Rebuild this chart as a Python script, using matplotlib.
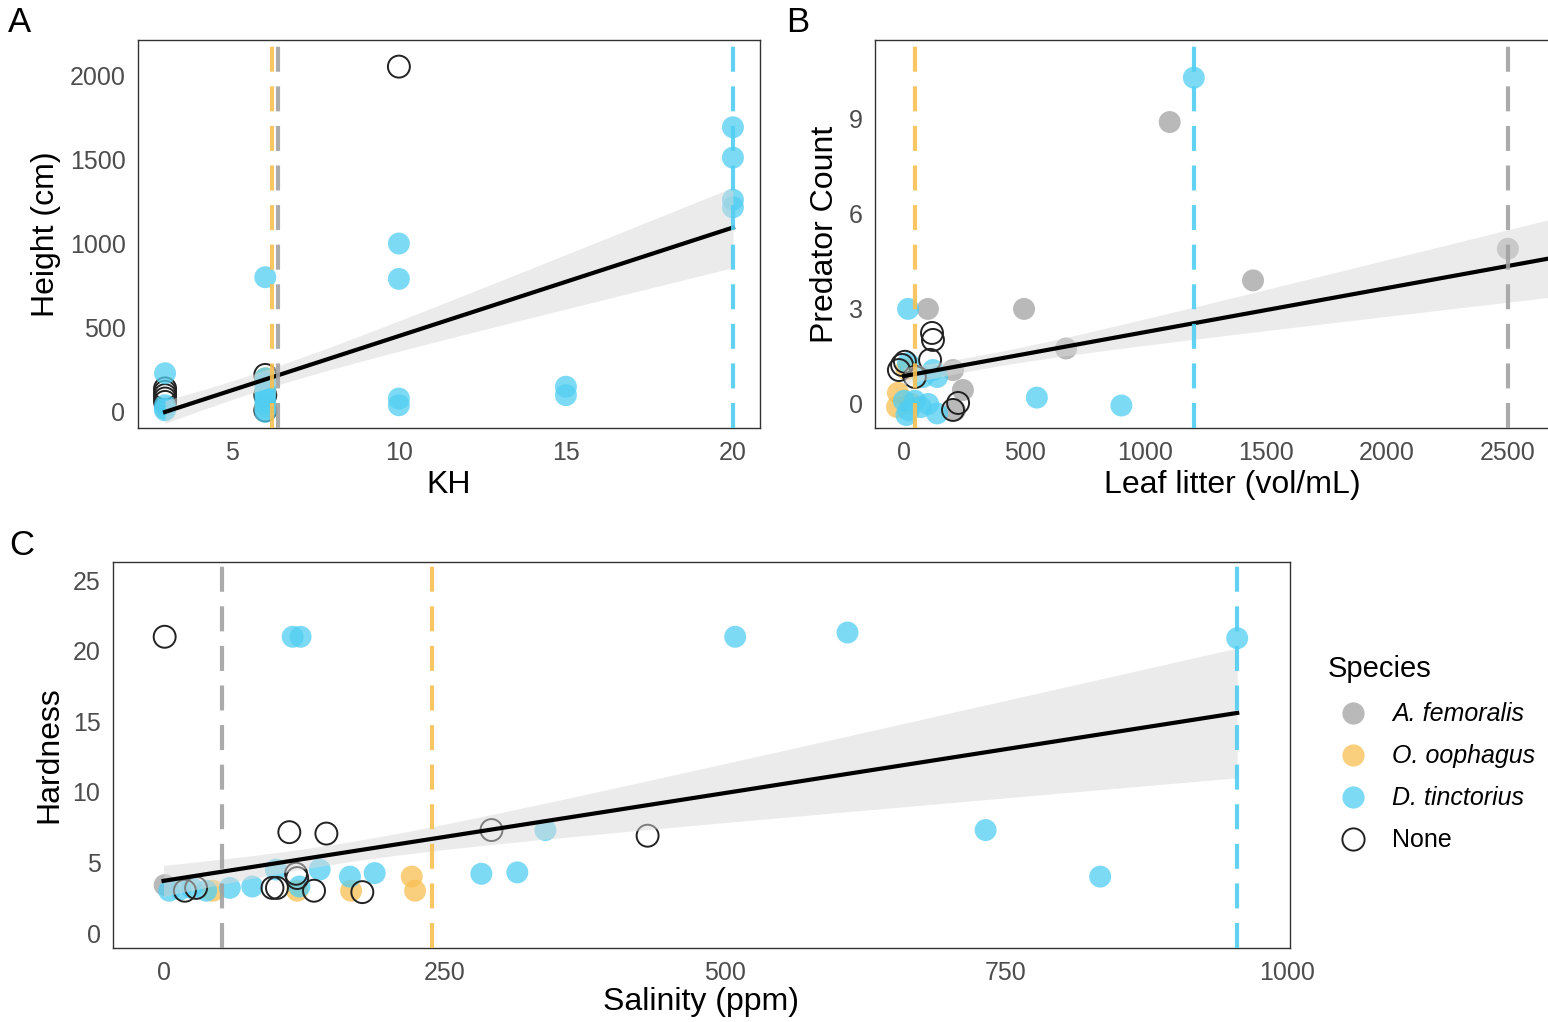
import matplotlib
matplotlib.use("Agg")
import matplotlib.pyplot as plt
from matplotlib.lines import Line2D
import numpy as np

plt.rcParams["font.family"] = ["Liberation Sans", "DejaVu Sans"]

# colours per species (group order used everywhere below)
species = ["A. femoralis", "O. oophagus", "D. tinctorius", "None"]
colors = {"A. femoralis": "#a2a2a2", "O. oophagus": "#f8c052",
          "D. tinctorius": "#51cef2", "None": "none"}

# ---- panel A : KH vs height ----
kh_oop = [6, 6, 6]
ht_oop = [30, 120, 200]
kh_tin = [3, 3, 3, 3, 6, 6, 6, 6, 6, 6, 6, 6, 6, 10, 10, 10, 10, 15, 15, 20, 20, 20, 20]
ht_tin = [230, 40, 10, 20, 0, 20, 50, 80, 110, 140, 170, 200, 800,
          1000, 790, 80, 40, 150, 100, 1690, 1510, 1260, 1215]
kh_none = [3, 3, 3, 3, 3, 6, 6, 6, 10]
ht_none = [60, 80, 100, 120, 140, 10, 100, 220, 2050]
vline_a = {"A. femoralis": 6.38, "O. oophagus": 6.2, "D. tinctorius": 20}
fit_a = (3, 20, -193, 64.4)          # x from, x to, intercept, slope
band_a = (5.5, 55, 16.0)             # centre x, min half width, spread

# ---- panel B : leaf litter vs predator count ----
ll_fem = [1100, 2500, 1445, 497, 671, 99, 203, 244, 211]
pc_fem = [8.9, 4.9, 3.9, 3.0, 1.75, 3.0, 1.07, 0.44, -0.2]
ll_oop = [-25, -29, 10, 30]
pc_oop = [0.35, -0.1, 1.1, 0.0]
ll_tin = [1200, 17, 550, 900, 137, 17, 79, 120, 0, 20, 45, 70, 100, 137, 10]
pc_tin = [10.3, 3.0, 0.2, -0.05, 0.85, 1.29, 0.85, 1.07, 0.1, -0.2, 0.1, -0.1, 0.0, -0.3, -0.35]
ll_none = [116, 120, 108, -8, -21, 4, 45, 224, 203]
pc_none = [2.24, 2.02, 1.39, 1.23, 1.07, 1.33, 0.85, 0.03, -0.19]
vline_b = {"A. femoralis": 2500, "O. oophagus": 45, "D. tinctorius": 1200}
fit_b = (0, 2800, 0.88, 0.00139)
band_b = (300, 0.22, 0.00051)

# ---- panel C : salinity vs hardness ----
sal_fem = [1]
hard_fem = [3.4]
sal_oop = [44, 119, 167, 221, 224]
hard_oop = [3.0, 3.0, 3.0, 4.0, 3.0]
sal_tin = [115, 122, 509, 609, 956, 5, 15, 25, 38, 59, 79, 100, 121, 139, 166, 188,
           340, 283, 315, 732, 834]
hard_tin = [21.0, 21.0, 21.0, 21.3, 20.9, 3.0, 3.1, 3.2, 3.0, 3.2, 3.3, 4.5, 3.3, 4.5, 4.0,
            4.25, 7.3, 4.2, 4.3, 7.3, 4.0]
sal_none = [1, 112, 145, 292, 431, 19, 29, 97, 101, 118, 119, 134, 177]
hard_none = [21.0, 7.15, 7.05, 7.3, 6.9, 3.0, 3.2, 3.2, 3.2, 4.2, 3.9, 3.0, 2.9]
vline_c = {"A. femoralis": 52, "O. oophagus": 239, "D. tinctorius": 956}
fit_c = (0, 956, 3.7, 0.01245)
band_c = (150, 0.7, 0.00564)

W, H = 1548, 1022
fig = plt.figure(figsize=(W / 100, H / 100), dpi=100)


def px_axes(l, t, r, b):
    return fig.add_axes([l / W, 1 - b / H, (r - l) / W, (b - t) / H])


def draw_panel(ax, groups, vlines, fit, band):
    s = 250
    for i, (name, xs, ys) in enumerate(groups):
        if name == "None":
            ax.scatter(xs, ys, s=s, facecolors="none", edgecolors="#222222",
                       linewidths=1.4, zorder=2 + i * 0.1)
        else:
            ax.scatter(xs, ys, s=s, color=colors[name], alpha=0.75,
                       edgecolors="none", zorder=2 + i * 0.1)
    x0, x1, b0, b1 = fit
    xx = np.linspace(x0, x1, 200)
    yy = b0 + b1 * xx
    xc, h0, k = band
    hw = np.sqrt(h0 ** 2 + (k * (xx - xc)) ** 2)
    ax.fill_between(xx, yy - hw, yy + hw, color="#d9d9d9", alpha=0.5,
                    lw=0, zorder=4)
    ax.plot(xx, yy, color="black", lw=3, zorder=5)
    for name, xv in vlines.items():
        ax.axvline(xv, color=colors[name], lw=3, ls=(0, (6, 3.5)),
                   alpha=0.9, zorder=6)
    for sp in ax.spines.values():
        sp.set_color("#333333")
        sp.set_linewidth(1.0)
    ax.tick_params(length=0, labelsize=18, labelcolor="#4d4d4d", pad=9)


axA = px_axes(138, 40, 760, 428)
draw_panel(axA, [("None", kh_none, ht_none),
                 ("O. oophagus", kh_oop, ht_oop),
                 ("D. tinctorius", kh_tin, ht_tin)], vline_a, fit_a, band_a)
axA.set_xlim(2.19, 20.81)
axA.set_ylim(-95, 2208)
axA.set_xticks([5, 10, 15, 20])
axA.set_yticks([0, 500, 1000, 1500, 2000])
axA.set_xlabel("KH", fontsize=23, labelpad=4)
axA.set_ylabel("Height (cm)", fontsize=23, labelpad=6)

axB = px_axes(875, 40, 1590, 428)
draw_panel(axB, [("A. femoralis", ll_fem, pc_fem),
                 ("O. oophagus", ll_oop, pc_oop),
                 ("D. tinctorius", ll_tin, pc_tin),
                 ("None", ll_none, pc_none)], vline_b, fit_b, band_b)
axB.set_xlim(-120, 2840)
axB.set_ylim(-0.76, 11.49)
axB.set_xticks([0, 500, 1000, 1500, 2000, 2500])
axB.set_yticks([0, 3, 6, 9])
axB.set_xlabel("Leaf litter (vol/mL)", fontsize=23, labelpad=4)
axB.set_ylabel("Predator Count", fontsize=23, labelpad=6)

axC = px_axes(113, 562, 1290, 948)
draw_panel(axC, [("A. femoralis", sal_fem, hard_fem),
                 ("O. oophagus", sal_oop, hard_oop),
                 ("D. tinctorius", sal_tin, hard_tin),
                 ("None", sal_none, hard_none)], vline_c, fit_c, band_c)
axC.set_xlim(-45, 1003)
axC.set_ylim(-1.06, 26.3)
axC.set_xticks([0, 250, 500, 750, 1000])
axC.set_yticks([0, 5, 10, 15, 20, 25])
axC.set_xlabel("Salinity (ppm)", fontsize=23, labelpad=2)
axC.set_ylabel("Hardness", fontsize=23, labelpad=6)

# panel letters
fig.text(20 / W, 1 - 22 / H, "A", fontsize=25, ha="center", va="center")
fig.text(798 / W, 1 - 22 / H, "B", fontsize=25, ha="center", va="center")
fig.text(22 / W, 1 - 545 / H, "C", fontsize=25, ha="center", va="center")

# legend
handles = []
for name in species:
    if name == "None":
        handles.append(Line2D([], [], ls="none", marker="o", markersize=16,
                              markerfacecolor="none", markeredgecolor="#222222",
                              markeredgewidth=1.4))
    else:
        handles.append(Line2D([], [], ls="none", marker="o", markersize=16,
                              markerfacecolor=colors[name], markeredgecolor="none",
                              alpha=0.75))
leg = fig.legend(handles, species, title="Species", loc="upper left",
                 bbox_to_anchor=(1318 / W, 1 - 645 / H), frameon=False,
                 fontsize=18, title_fontsize=21, handletextpad=0.55,
                 labelspacing=0.72, borderaxespad=0)
leg._legend_box.align = "left"
leg._legend_box.sep = 14
for txt in leg.get_texts()[:3]:
    txt.set_fontstyle("italic")

fig.savefig("out.png", dpi=100)
